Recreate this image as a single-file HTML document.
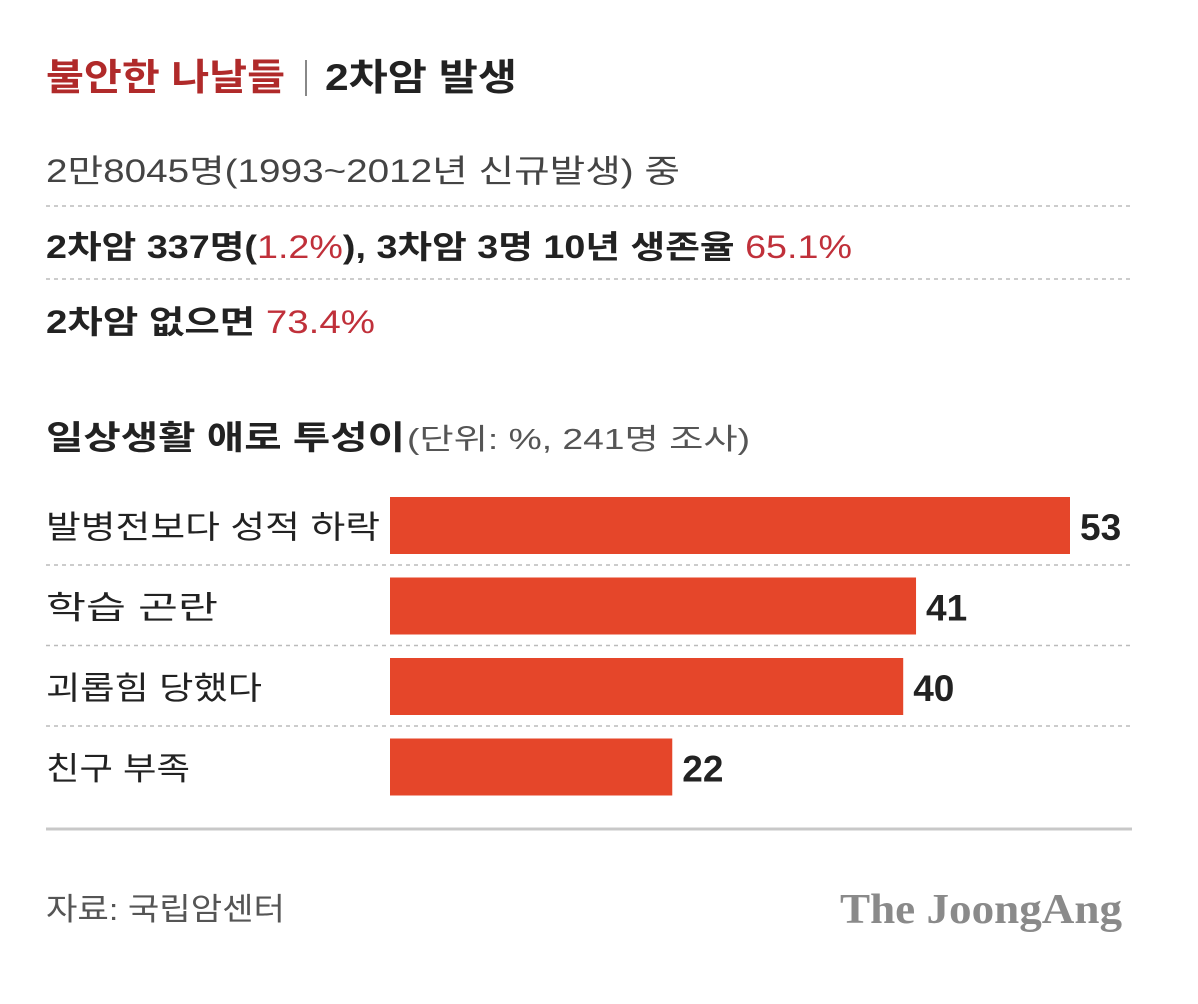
<!DOCTYPE html>
<html><head><meta charset="utf-8">
<style>
html,body{margin:0;padding:0;background:#fff;}
body{width:1198px;height:1004px;overflow:hidden;}
svg{display:block;font-family:"Liberation Sans","Noto Sans CJK KR",sans-serif;}
</style></head>
<body>
<svg id="chart" width="1198" height="1004">
  <text x="46" y="90" font-size="37" font-weight="bold" fill="#b02a2a" textLength="239" lengthAdjust="spacingAndGlyphs">불안한 나날들</text>
  <rect x="305" y="60" width="2" height="36" fill="#888"/>
  <text x="325" y="90" font-size="37" font-weight="bold" fill="#222" textLength="192" lengthAdjust="spacingAndGlyphs">2차암 발생</text>
  <text x="46" y="182" font-size="32" fill="#444" textLength="634" lengthAdjust="spacingAndGlyphs">2만8045명(1993~2012년 신규발생) 중</text>
  <line x1="46" y1="206" x2="1132" y2="206" stroke="#bbb" stroke-width="1.5" stroke-dasharray="4,4"/>
  <text x="46" y="258" font-size="32" font-weight="bold" fill="#222" textLength="806" lengthAdjust="spacingAndGlyphs">2차암 337명(<tspan fill="#c0303a" font-weight="normal">1.2%</tspan>), 3차암 3명 10년 생존율 <tspan fill="#c0303a" font-weight="normal">65.1%</tspan></text>
  <line x1="46" y1="279" x2="1132" y2="279" stroke="#bbb" stroke-width="1.5" stroke-dasharray="4,4"/>
  <text x="46" y="333" font-size="32" font-weight="bold" fill="#222" textLength="329" lengthAdjust="spacingAndGlyphs">2차암 없으면 <tspan fill="#c0303a" font-weight="normal">73.4%</tspan></text>
  <text x="46" y="449" font-size="33" font-weight="bold" fill="#222" textLength="359" lengthAdjust="spacingAndGlyphs">일상생활 애로 투성이</text>
  <text x="407" y="449" font-size="29" fill="#555" textLength="343" lengthAdjust="spacingAndGlyphs">(단위: %, 241명 조사)</text>
  <g id="bars"></g>
  <line x1="46" y1="829" x2="1132" y2="829" stroke="#c8c8c8" stroke-width="3"/>
  <text x="46" y="920" font-size="31" fill="#555" textLength="239" lengthAdjust="spacingAndGlyphs">자료: 국립암센터</text>
  <text x="840" y="923" font-size="42" font-weight="bold" fill="#8a8a8a" font-family="Liberation Serif, serif" textLength="282" lengthAdjust="spacingAndGlyphs">The JoongAng</text>
</svg>
<script>
const categories = ["발병전보다 성적 하락","학습 곤란","괴롭힘 당했다","친구 부족"];
const values = [53,41,40,22];
const labels = ["53","41","40","22"];
const labelWidths = [334,172,216,144];
const ns="http://www.w3.org/2000/svg";
const g=document.getElementById('bars');
const x0=390, pxPerUnit=680/53;
const xs=v=>x0+v*pxPerUnit;
const yTop=i=>497+i*80.5;
categories.forEach((c,i)=>{
  const y=yTop(i);
  const t=document.createElementNS(ns,'text');
  t.setAttribute('x',46);t.setAttribute('y',y+41);t.setAttribute('font-size',32);t.setAttribute('fill','#222');
  t.setAttribute('textLength',labelWidths[i]);t.setAttribute('lengthAdjust','spacingAndGlyphs');
  t.textContent=c;
  
  
  g.appendChild(t);
  const r=document.createElementNS(ns,'rect');
  r.setAttribute('x',x0);r.setAttribute('y',y);r.setAttribute('width',xs(values[i])-x0);r.setAttribute('height',57);r.setAttribute('fill','#e5462a');
  
  
  g.appendChild(r);
  const v=document.createElementNS(ns,'text');
  v.setAttribute('x',xs(values[i])+10);v.setAttribute('y',y+43);v.setAttribute('font-size',37);v.setAttribute('font-weight','bold');v.setAttribute('fill','#222');
  v.textContent=labels[i];
  
  
  g.appendChild(v);
  if(i<categories.length-1){
    const l=document.createElementNS(ns,'line');
    l.setAttribute('x1',46);l.setAttribute('x2',1132);l.setAttribute('y1',y+68);l.setAttribute('y2',y+68);
    l.setAttribute('stroke','#bbb');l.setAttribute('stroke-width',1.5);l.setAttribute('stroke-dasharray','4,4');
    
    
    g.appendChild(l);
  }
});
</script>
</body></html>
